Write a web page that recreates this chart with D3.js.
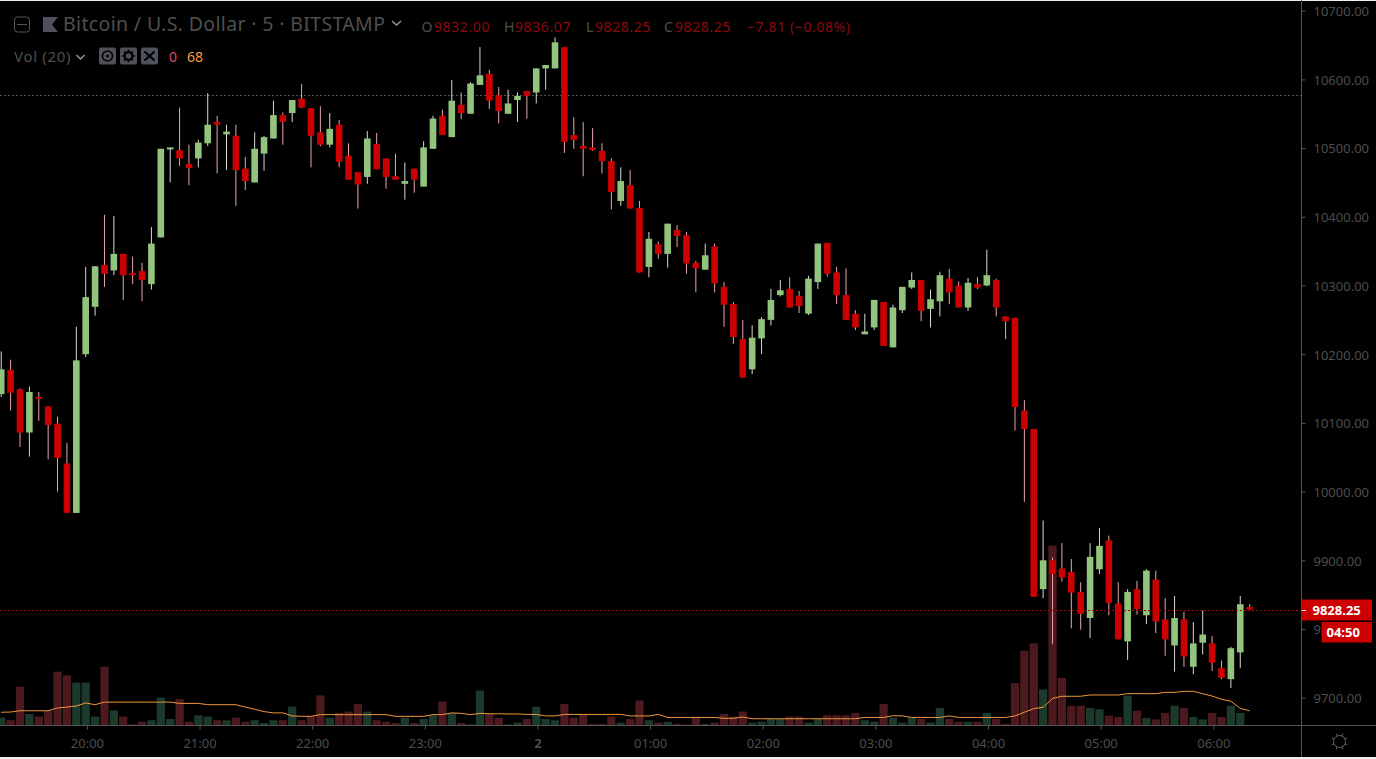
<!DOCTYPE html>
<html lang="en">
<head>
  <meta charset="UTF-8">
  <title>Bitcoin / U.S. Dollar 5 BITSTAMP</title>
  <script src="https://d3js.org/d3.v7.min.js"></script>
  <style>
    html, body { margin: 0; padding: 0; background: #000; overflow: hidden; }
    svg { display: block; font-family: "Noto Sans", sans-serif; }
    .axis text { fill: #4d4d4d; font-size: 13px; font-family: "Noto Sans", sans-serif; }
    .axis line { stroke: #555; }
    .axis path { display: none; }
  </style>
</head>
<body>
  <svg id="chart" width="1376" height="759"></svg>
  <script>
    // one entry per 5 minute bar, bar 0 is 20:00
    const firstBar = -9;

    const opens = [
      10142, 10177, 10149, 10086, 10138, 10124, 10099, 10041, 9969,
      10200, 10269, 10330, 10322, 10346, 10318, 10321, 10302, 10370, 10498, 10497, 10477,
      10485, 10507, 10538, 10520, 10518, 10470, 10450, 10492, 10514, 10548, 10551, 10572,
      10558, 10523, 10505, 10534, 10489, 10465, 10458, 10506, 10485, 10459, 10448, 10470,
      10444, 10499, 10547, 10516, 10563, 10550, 10592, 10608, 10577, 10550, 10570, 10583,
      10581, 10616, 10616, 10647, 10519, 10503, 10501, 10496, 10481, 10423, 10446, 10413,
      10327, 10360, 10346, 10381, 10373, 10333, 10323, 10357, 10298, 10273, 10222, 10178,
      10223, 10250, 10286, 10295, 10285, 10259, 10305, 10362, 10319, 10286, 10259, 10229,
      10239, 10276, 10210, 10264, 10297, 10308, 10266, 10277, 10310, 10300, 10268, 10302,
      10300, 10308, 10255, 10253, 10118, 10091, 9858, 9900, 9888, 9883, 9854, 9816,
      9887, 9929, 9837, 9782, 9858, 9820, 9872, 9814, 9776, 9814, 9745, 9780,
      9779, 9743, 9727, 9766, 9832
    ];
    const highs = [
      10204, 10192, 10150, 10153, 10145, 10124, 10109, 10071, 10240,
      10327, 10328, 10403, 10401, 10346, 10342, 10333, 10385, 10499, 10501, 10559, 10505,
      10512, 10580, 10547, 10534, 10534, 10487, 10523, 10518, 10569, 10552, 10570, 10593,
      10558, 10561, 10551, 10541, 10507, 10465, 10525, 10522, 10485, 10492, 10479, 10470,
      10510, 10547, 10556, 10599, 10581, 10596, 10647, 10614, 10589, 10585, 10581, 10583,
      10616, 10621, 10661, 10647, 10545, 10538, 10529, 10507, 10485, 10472, 10468, 10423,
      10378, 10364, 10390, 10388, 10378, 10336, 10361, 10361, 10305, 10276, 10250, 10242,
      10254, 10295, 10308, 10312, 10292, 10314, 10361, 10362, 10327, 10325, 10264, 10259,
      10279, 10276, 10272, 10298, 10319, 10308, 10294, 10320, 10324, 10306, 10311, 10312,
      10352, 10310, 10255, 10253, 10133, 10091, 9958, 9904, 9925, 9902, 9868, 9925,
      9947, 9936, 9868, 9858, 9870, 9887, 9885, 9845, 9848, 9825, 9810, 9827,
      9790, 9754, 9774, 9848, 9836.07
    ];
    const lows = [
      10138, 10118, 10065, 10051, 10103, 10047, 10000, 9969, 9969,
      10196, 10256, 10298, 10315, 10279, 10302, 10277, 10294, 10370, 10450, 10474, 10446,
      10472, 10503, 10463, 10468, 10416, 10439, 10450, 10467, 10514, 10505, 10538, 10558,
      10472, 10503, 10501, 10472, 10454, 10412, 10448, 10469, 10441, 10454, 10425, 10435,
      10444, 10499, 10519, 10516, 10542, 10550, 10592, 10557, 10536, 10550, 10538, 10543,
      10565, 10585, 10616, 10493, 10499, 10459, 10496, 10463, 10411, 10416, 10412, 10319,
      10312, 10339, 10326, 10356, 10317, 10290, 10323, 10290, 10240, 10215, 10166, 10171,
      10200, 10242, 10284, 10268, 10260, 10257, 10295, 10313, 10273, 10250, 10235, 10229,
      10235, 10212, 10210, 10260, 10295, 10248, 10239, 10255, 10273, 10268, 10263, 10295,
      10299, 10255, 10222, 10089, 9985, 9847, 9845, 9778, 9869, 9801, 9799, 9787,
      9880, 9820, 9785, 9755, 9821, 9807, 9794, 9761, 9738, 9745, 9734, 9763,
      9739, 9727, 9714, 9743, 9828.25
    ];
    const closes = [
      10178, 10144, 10086, 10145, 10135, 10097, 10049, 9969, 10191,
      10283, 10328, 10317, 10346, 10315, 10315, 10308, 10361, 10499, 10501, 10485, 10471,
      10508, 10534, 10534, 10524, 10468, 10452, 10499, 10516, 10548, 10538, 10570, 10559,
      10518, 10505, 10528, 10480, 10454, 10447, 10514, 10469, 10458, 10454, 10452, 10454,
      10501, 10543, 10519, 10569, 10551, 10594, 10606, 10569, 10554, 10565, 10576, 10576,
      10616, 10621, 10654, 10509, 10512, 10499, 10497, 10481, 10436, 10452, 10412, 10319,
      10368, 10346, 10390, 10372, 10332, 10325, 10344, 10303, 10272, 10225, 10166, 10224,
      10251, 10279, 10293, 10268, 10270, 10310, 10361, 10317, 10286, 10250, 10239, 10233,
      10279, 10212, 10268, 10298, 10308, 10263, 10280, 10315, 10290, 10268, 10304, 10297,
      10315, 10268, 10248, 10123, 10091, 9847, 9900, 9880, 9875, 9853, 9822, 9905,
      9921, 9838, 9785, 9854, 9829, 9885, 9811, 9785, 9816, 9760, 9779, 9792,
      9751, 9729, 9772, 9836.06, 9828.25
    ];
    const volumes = [
      34, 22, 177, 51, 39, 65, 247, 230, 196,
      196, 39, 270, 68, 39, 3, 15, 22, 127, 28, 120, 15,
      45, 39, 22, 22, 34, 15, 22, 9, 22, 22, 85, 22,
      40, 137, 34, 56, 62, 97, 62, 22, 15, 9, 34, 9,
      28, 45, 108, 56, 9, 3, 160, 51, 34, 3, 11, 28,
      85, 28, 22, 97, 34, 51, 5, 5, 39, 11, 28, 114,
      22, 11, 15, 5, 2, 34, 5, 11, 51, 39, 62, 11,
      15, 28, 28, 39, 39, 11, 28, 45, 45, 45, 56, 22,
      15, 97, 34, 11, 34, 28, 11, 79, 28, 15, 15, 15,
      56, 28, 5, 194, 344, 378, 165, 830, 218, 89, 89, 79,
      73, 43, 37, 136, 66, 32, 26, 56, 89, 79, 37, 26,
      56, 37, 89, 56, 0
    ];
    const volumeMa = [
      59, 60, 66, 66, 66, 66, 79, 83, 88,
      102, 94, 106, 106, 106, 106, 106, 106, 106, 106, 100, 100,
      100, 94, 94, 94, 94, 83, 73, 62, 56, 56, 42, 40,
      40, 48, 48, 48, 48, 48, 48, 48, 48, 40, 40, 40,
      40, 48, 48, 56, 54, 48, 54, 52, 52, 51, 51, 49,
      49, 42, 42, 49, 49, 49, 49, 49, 49, 49, 42, 42,
      42, 49, 35, 35, 35, 35, 35, 35, 31, 31, 37, 29,
      29, 29, 29, 29, 29, 29, 29, 29, 29, 29, 29, 35,
      35, 35, 43, 42, 35, 35, 35, 35, 42, 35, 35, 35,
      35, 35, 35, 42, 59, 76, 82, 123, 133, 133, 133, 139,
      139, 139, 139, 145, 145, 145, 145, 151, 151, 156, 156, 145,
      134, 119, 110, 77, 66
    ];

    const hourBars = [0, 12, 24, 36, 48, 60, 72, 84, 96, 108, 120];
    const hourLabels = ["20:00", "21:00", "22:00", "23:00", "2", "01:00", "02:00", "03:00", "04:00", "05:00", "06:00"];
    const priceTicks = [9700, 9800, 9900, 10000, 10100, 10200, 10300, 10400, 10500, 10600, 10700];
    const lastPrice = 9828.25;
    const prevLine = 10576.6;

    const upColor = "#93c47d", downColor = "#cc0000";
    const upWick = "#d8d8d4", downWick = "#e8a4ac";
    const upVol = "#1b3a2c", downVol = "#4c1a1e";
    const textGrey = "#4f4f4f", headerRed = "#8f0a10";

    const svg = d3.select("#chart");
    const W = 1376, H = 759;
    const plotRight = 1301.5, plotBottom = 725.5;

    const bars = opens.map((o, i) => ({
      bar: firstBar + i, open: o, high: highs[i], low: lows[i], close: closes[i],
      vol: volumes[i], ma: volumeMa[i], up: closes[i] >= o
    }));

    const x = d3.scaleLinear().domain([0, 120]).range([85.7, 1212.1]);
    const y = d3.scaleLinear().domain([9700, 10700]).range([697.7, 10.7]);
    const yVol = d3.scaleLinear().domain([0, 830]).range([725, 545.7]);

    // thin white strips at the very top and bottom of the screenshot
    svg.append("rect").attr("width", W).attr("height", 1).attr("fill", "#eee");
    svg.append("rect").attr("y", 757).attr("width", W).attr("height", 2).attr("fill", "#eee");

    // volume pane
    const barW = 8.2;
    svg.append("g").selectAll("rect").data(bars).enter().append("rect")
      .attr("x", d => x(d.bar) - barW / 2)
      .attr("y", d => yVol(d.vol))
      .attr("width", barW)
      .attr("height", d => yVol(0) - yVol(d.vol))
      .attr("fill", d => d.up ? upVol : downVol);

    // price lines
    svg.append("line").attr("x1", 0).attr("x2", plotRight)
      .attr("y1", Math.round(y(prevLine)) + 0.5).attr("y2", Math.round(y(prevLine)) + 0.5)
      .attr("stroke", "#555").attr("stroke-dasharray", "2 2");

    // candles
    const candles = svg.append("g");
    candles.selectAll("line").data(bars).enter().append("line")
      .attr("x1", d => x(d.bar)).attr("x2", d => x(d.bar))
      .attr("y1", d => y(d.high)).attr("y2", d => y(d.low))
      .attr("stroke", d => d.up ? upWick : downWick)
      .attr("stroke-width", 1);
    const bodyW = 6.6;
    candles.selectAll("rect").data(bars).enter().append("rect")
      .attr("x", d => x(d.bar) - bodyW / 2)
      .attr("y", d => y(Math.max(d.open, d.close)))
      .attr("width", bodyW)
      .attr("height", d => Math.max(1.5, Math.abs(y(d.open) - y(d.close))))
      .attr("fill", d => d.up ? upColor : downColor);

    // volume moving average
    const maLine = d3.line().x(d => x(d.bar)).y(d => yVol(d.ma));
    svg.append("path").datum(bars).attr("d", maLine)
      .attr("fill", "none").attr("stroke", "#f0963c").attr("stroke-width", 1);

    // last price line
    svg.append("line").attr("x1", 0).attr("x2", plotRight)
      .attr("y1", Math.round(y(lastPrice)) + 0.5).attr("y2", Math.round(y(lastPrice)) + 0.5)
      .attr("stroke", "#b00000").attr("stroke-dasharray", "2 2");

    // axes
    const priceAxis = d3.axisRight(y).tickValues(priceTicks).tickFormat(d3.format(".2f")).tickSize(4).tickPadding(8);
    svg.append("g").attr("class", "axis")
      .attr("transform", `translate(${plotRight},0)`)
      .call(priceAxis)
      .selectAll("text").attr("dy", "0.37em");

    const timeAxis = d3.axisBottom(x).tickValues(hourBars)
      .tickFormat((d, i) => hourLabels[i]).tickSize(4).tickPadding(9);
    const timeG = svg.append("g").attr("class", "axis")
      .attr("transform", `translate(1.2,${plotBottom})`)
      .call(timeAxis);
    timeG.selectAll("text").style("font-weight", (d, i) => hourLabels[i] === "2" ? "bold" : "normal");

    svg.append("line").attr("x1", plotRight).attr("x2", plotRight).attr("y1", 0).attr("y2", 757).attr("stroke", "#555");
    svg.append("line").attr("x1", 0).attr("x2", W).attr("y1", plotBottom).attr("y2", plotBottom).attr("stroke", "#555");

    // price tags
    function tag(x0, x1, y0, y1, label, tx) {
      svg.append("rect").attr("x", x0).attr("y", y0).attr("width", x1 - x0).attr("height", y1 - y0).attr("fill", downColor);
      svg.append("text").attr("x", tx).attr("y", (y0 + y1) / 2 + 4.5)
        .attr("fill", "#fff").attr("font-size", 13).attr("font-weight", "bold").text(label);
    }
    tag(1301.5, 1372, 599.5, 620.5, d3.format(".2f")(lastPrice), 1312.5);
    svg.append("line").attr("x1", 1302).attr("x2", 1306).attr("y1", 610.5).attr("y2", 610.5).attr("stroke", "#fff");
    tag(1321.5, 1372, 622, 642.5, "04:50", 1326.5);

    // header
    function label(tx, ty, text, size, color, spacing) {
      return svg.append("text").attr("x", tx).attr("y", ty).attr("font-size", size)
        .attr("fill", color).attr("letter-spacing", spacing || 0).text(text);
    }
    svg.append("rect").attr("x", 14.5).attr("y", 17).attr("width", 15).attr("height", 15).attr("rx", 3)
      .attr("fill", "none").attr("stroke", "#555");
    svg.append("line").attr("x1", 17).attr("x2", 27).attr("y1", 24.5).attr("y2", 24.5).attr("stroke", "#555");
    svg.append("path").attr("d", "M43 17H58L52 24.5L58 32H43Z").attr("fill", "#4e505c");
    label(63, 31, "Bitcoin / U.S. Dollar · 5 · BITSTAMP", 19.5, textGrey, 0.35);
    svg.append("path").attr("d", "M392 21L396.5 25L401 21").attr("fill", "none").attr("stroke", "#999").attr("stroke-width", 1.4);

    const ohlcLabels = ["O", "H", "L", "C"];
    const ohlcText = ["9832.00", "9836.07", "9828.25", "9828.25"];
    const ohlcLetterX = [421.5, 504, 586, 664];
    const ohlcValueX = [434, 515, 595, 675];
    ohlcLabels.forEach((t, i) => {
      label(ohlcLetterX[i], 32, t, 14, textGrey);
      label(ohlcValueX[i], 32, ohlcText[i], 14, headerRed, 0.6);
    });
    label(747, 32, "−7.81 (−0.08%)", 14, headerRed, 0.6);

    label(14, 62, "Vol (20)", 15, textGrey, 0.7);
    svg.append("path").attr("d", "M76.5 55L80.5 59L84.5 55").attr("fill", "none").attr("stroke", "#999").attr("stroke-width", 1.4);

    // study buttons: eye, gear, close
    const btnX = [99, 120, 141];
    btnX.forEach(bx => svg.append("rect").attr("x", bx).attr("y", 47.5).attr("width", 17).attr("height", 17).attr("rx", 2).attr("fill", "#4e505c"));
    svg.append("circle").attr("cx", 107.5).attr("cy", 56).attr("r", 5).attr("fill", "none").attr("stroke", "#000").attr("stroke-width", 1.5);
    svg.append("circle").attr("cx", 107.5).attr("cy", 56).attr("r", 1.5).attr("fill", "#000");
    svg.append("circle").attr("cx", 128.5).attr("cy", 56).attr("r", 3.8).attr("fill", "none").attr("stroke", "#000").attr("stroke-width", 2.2);
    d3.range(8).forEach(k => {
      const a = k * Math.PI / 4;
      svg.append("line").attr("x1", 128.5 + 4 * Math.cos(a)).attr("y1", 56 + 4 * Math.sin(a))
        .attr("x2", 128.5 + 6.3 * Math.cos(a)).attr("y2", 56 + 6.3 * Math.sin(a))
        .attr("stroke", "#000").attr("stroke-width", 1.8);
    });
    svg.append("path").attr("d", "M144.5 51.5L154.5 60.5M154.5 51.5L144.5 60.5").attr("stroke", "#000").attr("stroke-width", 2.2);
    label(169, 62, "0", 14, "#e0485c");
    label(187, 62, "68", 14, "#ff9a45");

    // settings gear in the corner
    svg.append("circle").attr("cx", 1339.5).attr("cy", 741.5).attr("r", 6).attr("fill", "none").attr("stroke", "#666");
    d3.range(8).forEach(k => {
      const a = k * Math.PI / 4 + Math.PI / 8;
      svg.append("line").attr("x1", 1339.5 + 6 * Math.cos(a)).attr("y1", 741.5 + 6 * Math.sin(a))
        .attr("x2", 1339.5 + 8.5 * Math.cos(a)).attr("y2", 741.5 + 8.5 * Math.sin(a))
        .attr("stroke", "#666");
    });
  </script>
</body>
</html>
